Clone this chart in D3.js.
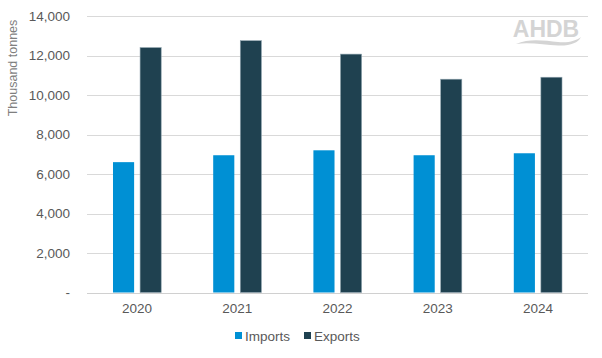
<!DOCTYPE html>
<html><head><meta charset="utf-8">
<script src="https://cdn.jsdelivr.net/npm/d3@7"></script>
<style>body{margin:0;background:#fff;}svg{display:block;font-family:"Liberation Sans",Arial,sans-serif;}</style>
</head><body>
<svg id="chart" width="602" height="358"></svg>
<script>
const years = ["2020","2021","2022","2023","2024"];
const imports = [6600, 6950, 7200, 6950, 7050];
const exports_ = [12400, 12750, 12070, 10800, 10900];
const seriesNames = ["Imports","Exports"];
const seriesColors = ["#0090D4","#1F4150"];
const yTicks = [0,2000,4000,6000,8000,10000,12000,14000];

const svg = d3.select("#chart");
const m = {left:87, right:14, top:16, bottom:65.5};
const W = 602, H = 358;
const x0 = d3.scaleBand().domain(years).range([m.left, W-m.right]).paddingInner(0).paddingOuter(0);
const x1 = d3.scaleBand().domain(seriesNames).range([0, x0.bandwidth()]).paddingInner(0.22).paddingOuter(0.96);
const y = d3.scaleLinear().domain([0,14000]).range([H-m.bottom, m.top]);

// gridlines
svg.append("g").selectAll("line").data(yTicks.slice(1)).join("line")
  .attr("x1", m.left).attr("x2", W-m.right)
  .attr("y1", d=>Math.round(y(d))+0.5).attr("y2", d=>Math.round(y(d))+0.5)
  .attr("stroke","#d9d9d9").attr("stroke-width",1);

// logo
const logo = svg.append("g");
logo.append("text").attr("x",546).attr("y",37).attr("text-anchor","middle")
  .attr("font-size",23).attr("font-weight","bold").attr("fill","#d4d4d4").text("AHDB");
logo.append("path").attr("d","M516,44 C530,38 545,41 558,42 C568,43 576,41 581,37 C578,43 570,46 558,45.5 C545,45 530,42 516,44 Z")
  .attr("fill","#d4d4d4");

// y axis labels
const yAxis = d3.axisLeft(y).tickValues(yTicks).tickSize(0).tickPadding(0)
  .tickFormat(d => d===0 ? "-" : d3.format(",")(d));
const ya = svg.append("g").attr("transform",`translate(70,0)`).call(yAxis);
ya.select(".domain").remove();
ya.selectAll("text").attr("font-size",13.5).attr("fill","#595959").attr("font-family","Liberation Sans, Arial, sans-serif");

// bars
const data = years.map((yr,i)=>({yr, vals:[imports[i], exports_[i]]}));
const groups = svg.append("g").selectAll("g").data(data).join("g")
  .attr("transform", d=>`translate(${x0(d.yr)},0)`);
groups.selectAll("rect").data(d=>d.vals.map((v,j)=>({v, s:seriesNames[j], c:seriesColors[j]}))).join("rect")
  .attr("x", d=>x1(d.s)).attr("width", x1.bandwidth())
  .attr("y", d=>y(d.v)).attr("height", d=>y(0)-y(d.v))
  .attr("fill", d=>d.c)
  .attr("stroke", (d,i)=> i===1 ? "#8fa3ad" : "none").attr("stroke-width",0.6);

// baseline
svg.append("line").attr("x1",m.left).attr("x2",W-m.right)
  .attr("y1",Math.round(y(0))+0.5).attr("y2",Math.round(y(0))+0.5)
  .attr("stroke","#d0d0d0").attr("stroke-width",1);

// x axis
const xAxis = d3.axisBottom(x0).tickSize(0).tickPadding(0);
const xa = svg.append("g").attr("transform",`translate(0,${y(0)+11})`).call(xAxis);
xa.select(".domain").remove();
xa.selectAll("text").attr("font-size",13.5).attr("fill","#595959").attr("dy","0.71em").attr("font-family","Liberation Sans, Arial, sans-serif");

// y title
svg.append("text").attr("transform","translate(17,68) rotate(-90)").attr("text-anchor","middle")
  .attr("font-size",12.5).attr("fill","#7f7f7f").text("Thousand tonnes");

// legend
const legX = [235, 304];
const leg = svg.append("g").selectAll("g").data(seriesNames).join("g")
  .attr("transform",(d,i)=>`translate(${legX[i]},336)`);
leg.append("rect").attr("x",0).attr("y",-4).attr("width",7).attr("height",7)
  .attr("fill",(d,i)=>seriesColors[i]);
leg.append("text").attr("x",10).attr("y",0).attr("dy","0.35em")
  .attr("font-size",13.5).attr("fill","#595959").text(d=>d);
</script>
</body></html>
